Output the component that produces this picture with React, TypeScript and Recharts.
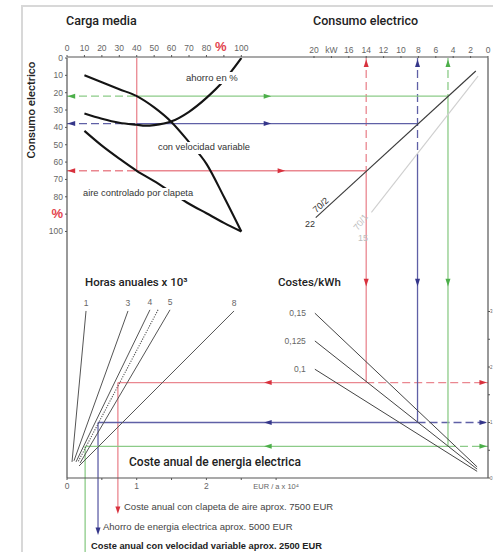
import React from "react";
import {
  ComposedChart,
  Line,
  XAxis,
  YAxis,
  ReferenceLine,
  ReferenceDot,
  LabelList,
} from "recharts";

const W = 493;
const H = 552;

// each axis spans the whole plot box, these are the values at the far edge
const PCT_MAX = 241.5; // carga media %, left -> right
const KW_MAX = 48.39; // consumo kW, right -> left
const EUR_MAX = 6.04; // EUR / a x 10^4, left -> right
const CONS_MAX = 242.1; // consumo %, top -> bottom
const ENERGIA_MAX = 7.568; // lower panel scale, bottom -> top

// ---- ticks ----
const pctTicks = [0, 10, 20, 30, 40, 50, 60, 70, 80, 90, 100];
const pctTickLabels = ["0", "10", "20", "30", "40", "50", "60", "70", "80", "%", "100"];
const kwTicks = [0, 2, 4, 6, 8, 10, 12, 14, 16, 18, 20];
const kwTickLabels = ["0", "2", "4", "6", "8", "10", "12", "14", "16", "kW", "20"];
const eurTicks = [0, 0.5, 1, 1.5, 2, 2.5, 3];
const eurTickLabels = ["0", "", "1", "", "2", "", "EUR / a x 10⁴"];
const energiaTicks = [0, 0.5, 1, 1.5, 2, 2.5, 3];
const energiaTickLabels = ["0", "", "1", "", "2", "", "3"];

// ---- curves: consumo % against carga media % ----
const cargaMedia = [10, 20, 30, 40, 50, 60, 70, 80, 90, 100];
const consumoVelocidad = [10, 14, 18, 22, 28.5, 37, 48.5, 61, 80, 100];
const consumoClapeta = [42, 50.5, 58, 65, 71, 77.5, 84, 89.5, 95, 100];
const cargaAhorro = [10, 20, 30, 40, 45, 50, 60, 70, 80, 90, 100];
const ahorroPct = [32, 35, 37.3, 38.5, 39, 38.7, 36.5, 31, 23, 13, 0];

// ---- motor lines: kW against consumo % ----
const motor22Kw = [1.4, 19.8];
const motor22Cons = [7.5, 92];
const motor15Kw = [1.14, 13.4];
const motor15Cons = [10.4, 89];

// ---- costes/kWh lines: kW against energia ----
const costesLabels = ["0,15", "0,125", "0,1"];
const costesKw = [19.9, 1.25];
const costes015 = [2.97, 0.2];
const costes0125 = [2.47, 0.16];
const costes01 = [1.96, 0.12];

// ---- horas anuales lines: EUR against energia ----
const horasLabels = ["1", "3", "4", "5", "8"];
const horasEur = [
  [0.273, 0.072],
  [0.875, 0.1],
  [1.19, 0.129],
  [1.478, 0.187],
  [2.396, 0.172],
];
const horasEnergia = [
  [3.01, 0.29],
  [3.01, 0.31],
  [3.03, 0.29],
  [3.03, 0.27],
  [3.01, 0.216],
];
const horasRealEur = [1.306, 0.158];
const horasRealEnergia = [3.03, 0.29];

// ---- worked example at 40 % load: clapeta, ahorro, velocidad variable ----
const cargaGuia = 40;
const guiaCons = [65, 37.8, 22];
const guiaKw = [14, 8.1, 4.6];
const guiaEnergia = [1.72, 1.0, 0.57];
const guiaEur = [0.73, 0.445, 0.26];

// where the guide pieces end / arrows sit (layout, in axis units)
const guiaDashEnd = [65, 60, 22];
const guiaDropEnd = [-0.58, -0.96, -1.45];
const guiaArrowPct = [123, 115, 115];

const GUIDE_LINE = ["#ea8790", "#5f60a6", "#8ccb88"];
const GUIDE_ARROW = ["#d8313d", "#35368a", "#4caf4a"];
const AXIS = "#555";
const TICK = "#666";
const RED_TEXT = "#e2434d";
const SANS = '"Liberation Sans", Arial, sans-serif';
const TITLE = 'Roboto, "Liberation Sans", sans-serif';

const pctToKw = (p: number) => KW_MAX * (1 - p / PCT_MAX);
const eurToKw = (e: number) => KW_MAX * (1 - e / EUR_MAX);
const energiaToCons = (v: number) => CONS_MAX * (1 - v / ENERGIA_MAX);

const pts = (xs: number[], ys: number[], label?: string) =>
  xs.map((x, i) => ({ x, y: ys[i], label: i === 0 ? label : undefined }));

type Dir = "left" | "right" | "up" | "down";
const arrow = (dir: Dir, fill: string) => (p: any) => {
  const { cx, cy } = p;
  const L = 3.8;
  const S = 2.5;
  let d = "";
  if (dir === "right") d = `${cx + L},${cy} ${cx - L},${cy - S} ${cx - L},${cy + S}`;
  else if (dir === "left") d = `${cx - L},${cy} ${cx + L},${cy - S} ${cx + L},${cy + S}`;
  else if (dir === "up") d = `${cx},${cy - L} ${cx - S},${cy + L} ${cx + S},${cy + L}`;
  else d = `${cx},${cy + L} ${cx - S},${cy - L} ${cx + S},${cy - L}`;
  return <polygon points={d} fill={fill} />;
};

const mkTick =
  (ticks: number[], labels: string[], kind: "top" | "left" | "bottom" | "right") =>
  (p: any) => {
    const i = ticks.indexOf(p.payload.value);
    const txt = labels[i] ?? "";
    if (!txt) return <g />;
    const isPct = txt === "%";
    const fill = isPct ? RED_TEXT : TICK;
    const fs = isPct ? 13 : 8.5;
    const fw = isPct ? 700 : 400;
    if (kind === "top")
      return (
        <text x={p.x - (isPct ? 3 : 0)} y={p.y - 1} textAnchor="middle" fontSize={fs} fontWeight={fw} fill={fill}>
          {txt}
        </text>
      );
    if (kind === "left")
      return (
        <text x={p.x} y={p.y + (isPct ? 4 : 3)} textAnchor="end" fontSize={fs} fontWeight={fw} fill={fill}>
          {txt}
        </text>
      );
    if (kind === "bottom")
      return (
        <text x={p.x} y={p.y + 7} textAnchor="middle" fontSize={txt.length > 3 ? 7.5 : 8.5} fill={TICK}>
          {txt}
        </text>
      );
    // right edge of the picture: only a sliver of these labels fits
    return (
      <text x={p.x} y={p.y + 1.5} textAnchor="start" fontSize={4.5} fill={TICK}>
        {txt}
      </text>
    );
  };

const numberLabel = (p: any) =>
  p.value ? (
    <text x={p.x} y={p.y - 5} textAnchor="middle" fontSize={8.5} fill={TICK}>
      {p.value}
    </text>
  ) : null;

const costeLabel = (p: any) =>
  p.value ? (
    <text x={p.x - 9} y={p.y + 3} textAnchor="end" fontSize={8.5} fill={TICK}>
      {p.value}
    </text>
  ) : null;

function Note({
  x,
  y,
  size,
  children,
  weight = 400,
  color = "#333",
  font = SANS,
  bg,
  rotate,
}: {
  x: number;
  y: number;
  size: number;
  children: React.ReactNode;
  weight?: number;
  color?: string;
  font?: string;
  bg?: boolean;
  rotate?: number;
}) {
  return (
    <div
      style={{
        position: "absolute",
        left: x,
        top: y - size * 0.6,
        fontSize: size,
        lineHeight: `${size * 1.2}px`,
        fontWeight: weight,
        color,
        fontFamily: font,
        whiteSpace: "nowrap",
        background: bg ? "#fff" : undefined,
        padding: bg ? "0 1px" : undefined,
        transform: rotate ? `translate(-50%, 0) rotate(${rotate}deg)` : undefined,
      }}
    >
      {children}
    </div>
  );
}

export default function App() {
  const dash = "8 4";
  const sw = 1.3;
  return (
    <div
      style={{
        position: "absolute",
        left: 0,
        top: 0,
        width: W,
        height: H,
        overflow: "hidden",
        background: "#fff",
        fontFamily: SANS,
      }}
    >
      <div
        style={{
          position: "absolute",
          left: 21,
          top: 5,
          width: W,
          height: H,
          borderLeft: "2px solid #d8d8d8",
          borderTop: "2px solid #d8d8d8",
        }}
      />
      <ComposedChart width={W} height={H} margin={{ top: 56, right: 0, bottom: 54, left: 0 }}>
        <XAxis
          xAxisId="pct"
          orientation="top"
          type="number"
          dataKey="x"
          domain={[0, PCT_MAX]}
          allowDataOverflow
          ticks={pctTicks}
          interval={0}
          height={1}
          tickSize={2}
          tickMargin={3}
          tick={mkTick(pctTicks, pctTickLabels, "top")}
          axisLine={{ stroke: AXIS, strokeWidth: 1.2 }}
          tickLine={{ stroke: AXIS }}
        />
        <XAxis
          xAxisId="kw"
          orientation="top"
          type="number"
          dataKey="x"
          domain={[0, KW_MAX]}
          reversed
          allowDataOverflow
          ticks={kwTicks}
          interval={0}
          height={1}
          tickSize={2}
          tickMargin={2}
          tick={mkTick(kwTicks, kwTickLabels, "top")}
          axisLine={false}
          tickLine={{ stroke: AXIS }}
        />
        <XAxis
          xAxisId="eur"
          orientation="bottom"
          type="number"
          dataKey="x"
          domain={[0, EUR_MAX]}
          allowDataOverflow
          ticks={eurTicks}
          interval={0}
          height={20}
          tickSize={2}
          tickMargin={2}
          tick={mkTick(eurTicks, eurTickLabels, "bottom")}
          axisLine={{ stroke: AXIS, strokeWidth: 1.2 }}
          tickLine={{ stroke: AXIS }}
        />
        <YAxis
          yAxisId="cons"
          orientation="left"
          type="number"
          domain={[0, CONS_MAX]}
          reversed
          allowDataOverflow
          ticks={pctTicks}
          interval={0}
          width={67}
          tickSize={2}
          tickMargin={2}
          tick={mkTick(pctTicks, pctTickLabels, "left")}
          axisLine={{ stroke: AXIS, strokeWidth: 1.2 }}
          tickLine={{ stroke: AXIS }}
        />
        <YAxis
          yAxisId="energia"
          orientation="right"
          type="number"
          domain={[0, ENERGIA_MAX]}
          allowDataOverflow
          ticks={energiaTicks}
          interval={0}
          width={5}
          tickSize={2}
          tickMargin={0}
          tick={mkTick(energiaTicks, energiaTickLabels, "right")}
          axisLine={{ stroke: AXIS, strokeWidth: 1.2 }}
          tickLine={{ stroke: AXIS }}
        />

        {/* worked example guides */}
        <ReferenceLine
          xAxisId="pct"
          yAxisId="cons"
          segment={[
            { x: cargaGuia, y: 0 },
            { x: cargaGuia, y: guiaCons[0] },
          ]}
          stroke={GUIDE_LINE[0]}
          strokeWidth={sw}
          ifOverflow="visible"
        />
        {guiaCons.map((cons, i) => {
          const kw = guiaKw[i];
          const en = guiaEnergia[i];
          const eur = guiaEur[i];
          const c = GUIDE_LINE[i];
          const a = GUIDE_ARROW[i];
          const kLoad = pctToKw(cargaGuia);
          return (
            <React.Fragment key={i}>
              <ReferenceLine xAxisId="kw" yAxisId="cons" segment={[{ x: pctToKw(0), y: cons }, { x: kLoad, y: cons }]} stroke={c} strokeWidth={sw} strokeDasharray={dash} ifOverflow="visible" />
              <ReferenceLine xAxisId="kw" yAxisId="cons" segment={[{ x: kLoad, y: cons }, { x: kw, y: cons }]} stroke={c} strokeWidth={sw} ifOverflow="visible" />
              <ReferenceLine xAxisId="kw" yAxisId="cons" segment={[{ x: kw, y: 0 }, { x: kw, y: guiaDashEnd[i] }]} stroke={c} strokeWidth={sw} strokeDasharray={dash} ifOverflow="visible" />
              <ReferenceLine xAxisId="kw" yAxisId="cons" segment={[{ x: kw, y: guiaDashEnd[i] }, { x: kw, y: energiaToCons(en) }]} stroke={c} strokeWidth={sw} ifOverflow="visible" />
              <ReferenceLine xAxisId="kw" yAxisId="energia" segment={[{ x: eurToKw(eur), y: en }, { x: kw, y: en }]} stroke={c} strokeWidth={sw} ifOverflow="visible" />
              <ReferenceLine xAxisId="kw" yAxisId="energia" segment={[{ x: kw, y: en }, { x: 0, y: en }]} stroke={c} strokeWidth={sw} strokeDasharray={dash} ifOverflow="visible" />
              <ReferenceLine xAxisId="eur" yAxisId="energia" segment={[{ x: eur, y: en }, { x: eur, y: guiaDropEnd[i] }]} stroke={c} strokeWidth={sw} ifOverflow="visible" />

              <ReferenceDot xAxisId="kw" yAxisId="cons" x={pctToKw(2.5)} y={cons} r={3} ifOverflow="visible" shape={arrow("left", a)} />
              <ReferenceDot xAxisId="kw" yAxisId="cons" x={pctToKw(guiaArrowPct[i])} y={cons} r={3} ifOverflow="visible" shape={arrow("right", a)} />
              <ReferenceDot xAxisId="kw" yAxisId="cons" x={kw} y={3} r={3} ifOverflow="visible" shape={arrow("up", a)} />
              <ReferenceDot xAxisId="kw" yAxisId="cons" x={kw} y={129.5} r={3} ifOverflow="visible" shape={arrow("down", a)} />
              <ReferenceDot xAxisId="kw" yAxisId="energia" x={25.3} y={en} r={3} ifOverflow="visible" shape={arrow("left", a)} />
              <ReferenceDot xAxisId="kw" yAxisId="energia" x={0.55} y={en} r={3} ifOverflow="visible" shape={arrow("right", a)} />
              {i < 2 && (
                <ReferenceDot xAxisId="eur" yAxisId="energia" x={eur} y={guiaDropEnd[i]} r={3} ifOverflow="visible" shape={arrow("down", a)} />
              )}
            </React.Fragment>
          );
        })}

        {/* consumo curves */}
        <Line xAxisId="pct" yAxisId="cons" data={pts(cargaMedia, consumoVelocidad)} dataKey="y" type="monotone" stroke="#141414" strokeWidth={2.1} dot={false} isAnimationActive={false} />
        <Line xAxisId="pct" yAxisId="cons" data={pts(cargaMedia, consumoClapeta)} dataKey="y" type="monotone" stroke="#141414" strokeWidth={2.1} dot={false} isAnimationActive={false} />
        <Line xAxisId="pct" yAxisId="cons" data={pts(cargaAhorro, ahorroPct)} dataKey="y" type="monotone" stroke="#141414" strokeWidth={2.1} dot={false} isAnimationActive={false} />

        {/* motor lines */}
        <Line xAxisId="kw" yAxisId="cons" data={pts(motor22Kw, motor22Cons)} dataKey="y" type="linear" stroke="#3a3a3a" strokeWidth={1.1} dot={false} isAnimationActive={false} />
        <Line xAxisId="kw" yAxisId="cons" data={pts(motor15Kw, motor15Cons)} dataKey="y" type="linear" stroke="#cfcfcf" strokeWidth={1.1} dot={false} isAnimationActive={false} />

        {/* costes / kWh */}
        {[costes015, costes0125, costes01].map((ys, i) => (
          <Line key={`c${i}`} xAxisId="kw" yAxisId="energia" data={pts(costesKw, ys, costesLabels[i])} dataKey="y" type="linear" stroke="#444" strokeWidth={1} dot={false} isAnimationActive={false}>
            <LabelList dataKey="label" content={costeLabel} />
          </Line>
        ))}

        {/* horas anuales */}
        {horasEur.map((xs, i) => (
          <Line key={`h${i}`} xAxisId="eur" yAxisId="energia" data={pts(xs, horasEnergia[i], horasLabels[i])} dataKey="y" type="linear" stroke="#555" strokeWidth={1} dot={false} isAnimationActive={false}>
            <LabelList dataKey="label" content={numberLabel} />
          </Line>
        ))}
        <Line xAxisId="eur" yAxisId="energia" data={pts(horasRealEur, horasRealEnergia)} dataKey="y" type="linear" stroke="#555" strokeWidth={1.1} strokeDasharray="1.2 1.3" dot={false} isAnimationActive={false} />
      </ComposedChart>

      <Note x={66} y={20} size={12.5} weight={500} color="#222" font={TITLE}>Carga media</Note>
      <Note x={313} y={20} size={12.5} weight={500} color="#222" font={TITLE}>Consumo electrico</Note>
      <div
        style={{
          position: "absolute",
          left: 31,
          top: 110,
          transform: "translate(-50%, -50%) rotate(-90deg)",
          fontFamily: TITLE,
          fontWeight: 500,
          fontSize: 11.5,
          color: "#222",
          whiteSpace: "nowrap",
        }}
      >
        Consumo electrico
      </div>

      <Note x={185} y={78} size={9.5} bg>ahorro en %</Note>
      <Note x={157} y={148} size={9.3} bg>con velocidad variable</Note>
      <Note x={82} y={194} size={9.3} bg>aire controlado por clapeta</Note>

      <Note x={321} y={205} size={9} rotate={-42}>70/2</Note>
      <Note x={305} y={224} size={9}>22</Note>
      <Note x={361} y={222} size={9} rotate={-52} color="#bdbdbd">70/1</Note>
      <Note x={358} y={238} size={9} color="#bdbdbd">15</Note>

      <Note x={85} y={283} size={11.5} weight={500} color="#222" font={TITLE}>
        Horas anuales x 10³
      </Note>
      <Note x={278} y={283} size={11.5} weight={500} color="#222" font={TITLE}>
        Costes/kWh
      </Note>
      <Note x={129} y={462} size={12} weight={500} color="#222" font={TITLE}>
        Coste anual de energia electrica
      </Note>

      <Note x={124} y={507} size={9.5} color="#444">Coste anual con clapeta de aire aprox. 7500 EUR</Note>
      <Note x={103} y={527} size={9.5} color="#444">Ahorro de energia electrica aprox. 5000 EUR</Note>
      <Note x={91} y={547} size={9.3} weight={700} color="#222">Coste anual con velocidad variable aprox. 2500 EUR</Note>
    </div>
  );
}
